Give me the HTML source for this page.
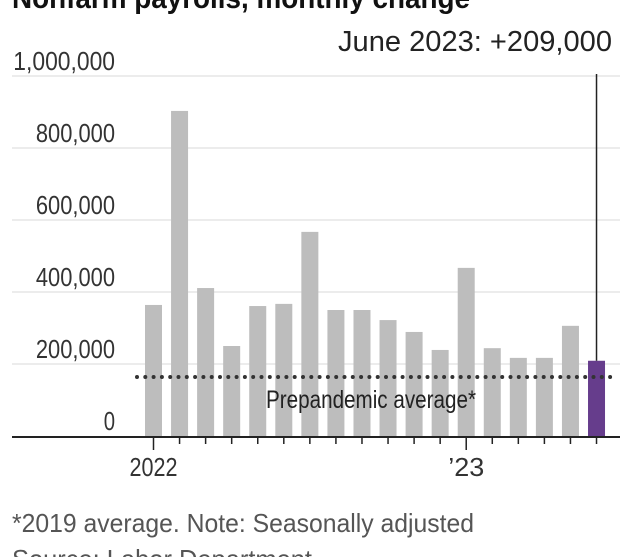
<!DOCTYPE html>
<html><head><meta charset="utf-8"><style>
html,body{margin:0;padding:0;background:#fff;}
svg{display:block;font-family:"Liberation Sans",sans-serif;}
</style></head><body>
<svg id="chart" width="640" height="557" viewBox="0 0 640 557" xmlns="http://www.w3.org/2000/svg">
<text x="12" y="8" font-size="30" font-weight="bold" fill="#111" textLength="458" lengthAdjust="spacingAndGlyphs">Nonfarm payrolls, monthly change</text>
<text x="612" y="51" font-size="29" fill="#222" text-anchor="end" textLength="274" lengthAdjust="spacingAndGlyphs">June 2023: +209,000</text>
<g id="grid"></g><g id="bars"></g><g id="axis"></g>
<text x="12" y="532" font-size="26" fill="#555" textLength="462" lengthAdjust="spacingAndGlyphs">*2019 average. Note: Seasonally adjusted</text>
<text x="12" y="568" font-size="26" fill="#555" textLength="300" lengthAdjust="spacingAndGlyphs">Source: Labor Department</text>
</svg>
<script>
const months = ["Jan 22","Feb 22","Mar 22","Apr 22","May 22","Jun 22","Jul 22","Aug 22","Sep 22","Oct 22","Nov 22","Dec 22","Jan 23","Feb 23","Mar 23","Apr 23","May 23","Jun 23"];
const values = [364000,903000,411000,250000,361000,367000,567000,350000,350000,322000,289000,239000,467000,244000,217000,217000,306000,209000];
const yTicks = [0,200000,400000,600000,800000,1000000];
const yTickLabels = ["0","200,000","400,000","600,000","800,000","1,000,000"];
const avgValue = 164000;
const yearLabels = [{i:0,t:"2022"},{i:12,t:"\u201923"}];

const NS="http://www.w3.org/2000/svg";
const y0=436, pxPer=360/1000000;
const y = v => y0 - v*pxPer;
const x0=145, step=26.06, bw=17;
const xc = i => x0 + i*step + bw/2;
function mk(tag, attrs, parent){const e=document.createElementNS(NS,tag);for(const k in attrs)e.setAttribute(k,attrs[k]);parent.appendChild(e);return e;}
const grid=document.getElementById('grid'), bars=document.getElementById('bars'), axis=document.getElementById('axis');
yTicks.forEach((v,k)=>{
  if(v>0){const l=mk('line',{x1:12,x2:620,y1:y(v),y2:y(v),stroke:'#e6e6e6','stroke-width':1.5},grid);
  
  }
  const t=mk('text',{x:115,y:y(v)-6,'font-size':26,fill:'#333','text-anchor':'end'},grid);
  
  
  t.textContent=yTickLabels[k];
  t.setAttribute('textLength', yTickLabels[k].length*11.3);
  t.setAttribute('lengthAdjust','spacingAndGlyphs');
});
values.forEach((v,i)=>{
  const last=i===values.length-1;
  const r=mk('rect',{x:xc(i)-bw/2,y:y(v),width:bw,height:y0-y(v),fill:last?'#663d8c':'#bdbdbd'},bars);
  
  
});
const li=values.length-1;
const vl=mk('line',{x1:xc(li),x2:xc(li),y1:74,y2:y(values[li]),stroke:'#222','stroke-width':1.5},bars);


const al=mk('line',{x1:137,x2:612,y1:y(avgValue),y2:y(avgValue),stroke:'#333','stroke-width':4,'stroke-linecap':'round','stroke-dasharray':'0 8.3'},bars);


const at=mk('text',{x:371,y:y(avgValue)+31,'font-size':25,fill:'#222','text-anchor':'middle',textLength:210,lengthAdjust:'spacingAndGlyphs'},bars);


at.textContent='Prepandemic average*';
const base=mk('line',{x1:12,x2:620,y1:437,y2:437,stroke:'#222','stroke-width':2},axis);


months.forEach((m,i)=>{
  const major=yearLabels.some(o=>o.i===i);
  const t=mk('line',{x1:xc(i),x2:xc(i),y1:437,y2:major?450:444,stroke:'#222','stroke-width':1.5},axis);
  
  
});
yearLabels.forEach(o=>{
  const t=mk('text',{x:xc(o.i),y:476,'font-size':26,fill:'#333','text-anchor':'middle'},axis);
  
  
  t.textContent=o.t;
  t.setAttribute('textLength', o.t.length*12);
  t.setAttribute('lengthAdjust','spacingAndGlyphs');
});
</script>
</body></html>
